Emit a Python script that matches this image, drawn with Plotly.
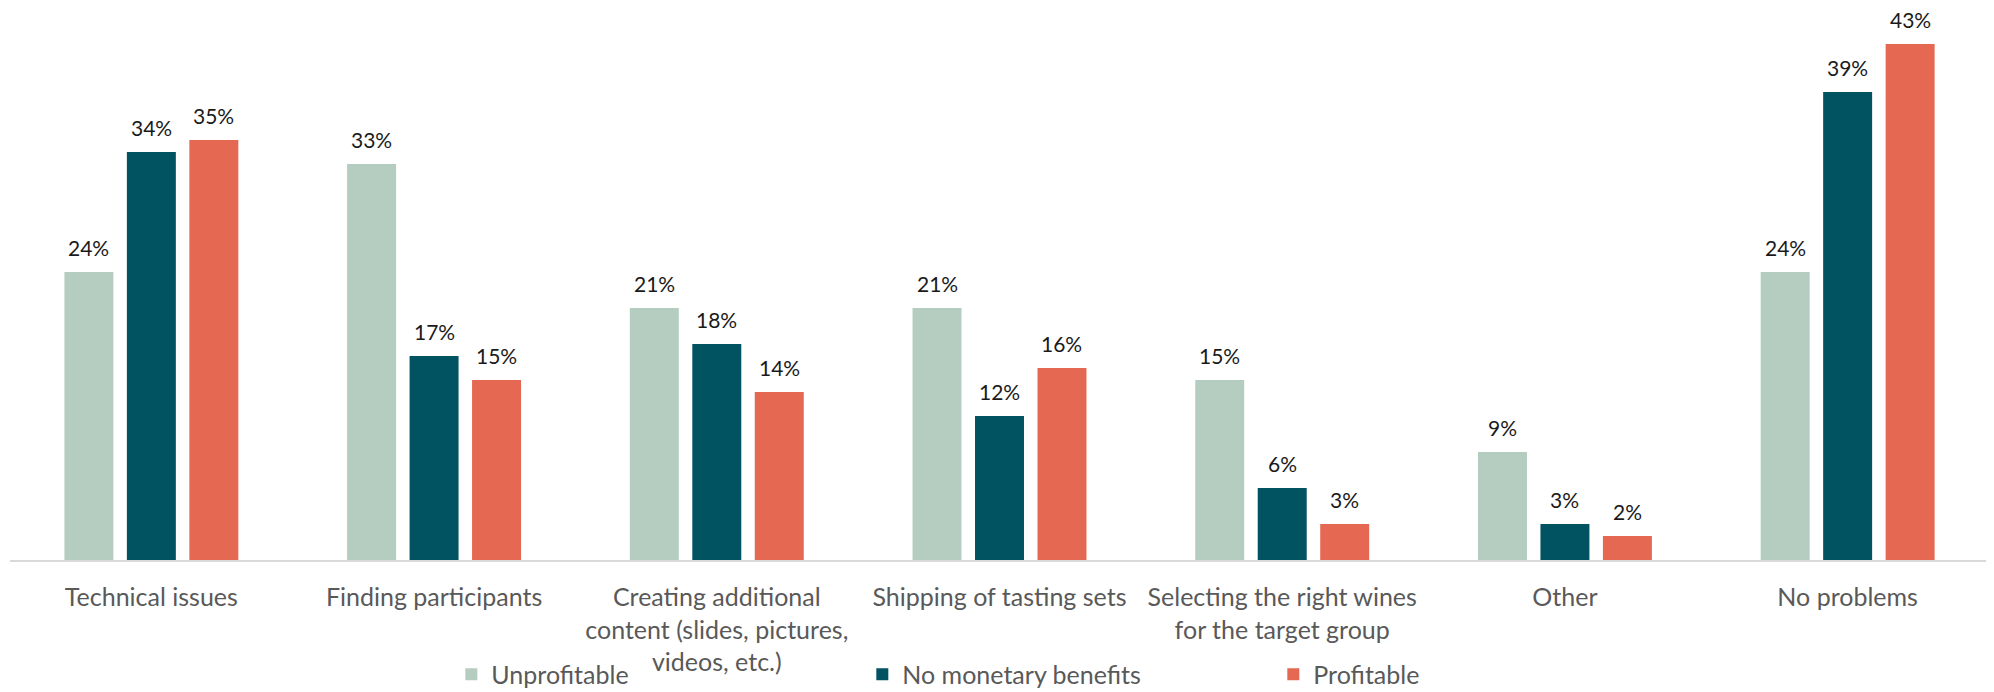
import plotly.graph_objects as go

categories = [
    "Technical issues",
    "Finding participants",
    "Creating additional<br>content (slides, pictures,<br>videos, etc.)",
    "Shipping of tasting sets",
    "Selecting the right wines<br>for the target group",
    "Other",
    "No problems",
]
series_names = ["Unprofitable", "No monetary benefits", "Profitable"]
unprofitable = [24, 33, 21, 21, 15, 9, 24]
no_monetary = [34, 17, 18, 12, 6, 3, 39]
profitable = [35, 15, 14, 16, 3, 2, 43]
colors = ["#B5CCC0", "#025362", "#E56852"]

values = [unprofitable, no_monetary, profitable]
BARGAP = 0.337
GROUPGAP = 0.216

fig = go.Figure()
for name, vals, col in zip(series_names, values, colors):
    fig.add_trace(go.Bar(
        name=name, x=categories, y=vals, marker_color=col,
        marker_line_width=0,
    ))

slot = (1 - BARGAP) / len(values)
annotations = []
for j, vals in enumerate(values):
    off = (j - (len(values) - 1) / 2) * slot
    for i, v in enumerate(vals):
        annotations.append(dict(
            x=i + off, y=v, xref="x", yref="y", text=f"{v}%",
            showarrow=False, yanchor="bottom", yshift=10,
            font=dict(family="Lato", size=21, color="#1a1a1a"),
        ))

fig.update_layout(
    width=1994, height=692,
    margin=dict(l=2, r=13, t=12, b=127),
    paper_bgcolor="white", plot_bgcolor="white",
    barmode="group", bargap=BARGAP, bargroupgap=GROUPGAP,
    font=dict(family="Lato", color="#595959", size=25),
    annotations=annotations,
    showlegend=True,
    legend=dict(
        orientation="h", x=0.223, xanchor="left", y=-0.212, yanchor="middle",
        font=dict(family="Lato", size=25, color="#595959"),
        bgcolor="rgba(0,0,0,0)",
        entrywidth=366, itemclick=False,
        traceorder="normal",
    ),
)
fig.update_xaxes(
    type="category", showline=True, linecolor="#D9D9D9", linewidth=2,
    ticks="", showgrid=False, tickfont=dict(family="Lato", size=25, color="#595959"),
    ticklabelstandoff=14,
)
fig.update_yaxes(
    range=[0, 45.0], visible=False, showgrid=False, zeroline=False,
)

fig.write_html("out.html")
